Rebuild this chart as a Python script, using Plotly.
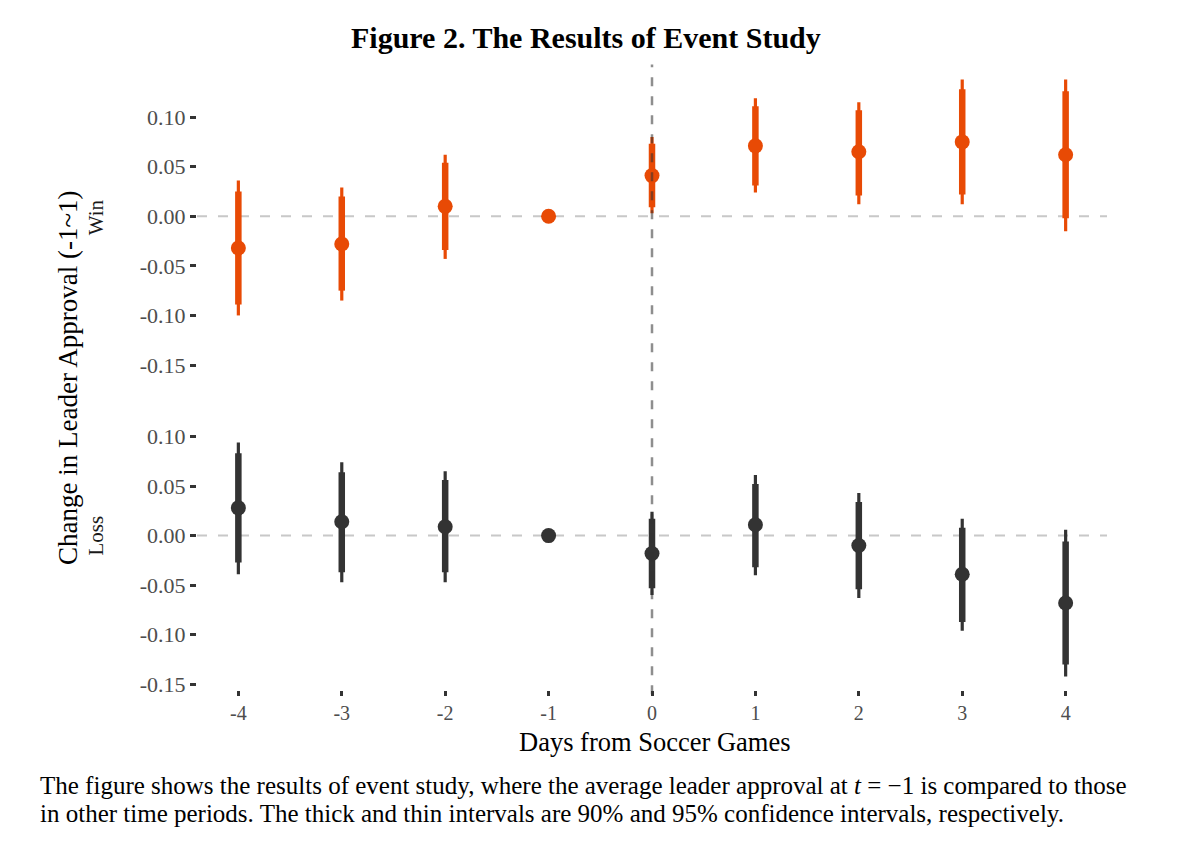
import plotly.graph_objects as go

# ---------------- data ----------------
days = [-4, -3, -2, -1, 0, 1, 2, 3, 4]
day_labels = ["-4", "-3", "-2", "-1", "0", "1", "2", "3", "4"]

win_est = [-0.032, -0.028, 0.010, 0.0, 0.041, 0.071, 0.065, 0.075, 0.062]
win_lo90 = [-0.089, -0.075, -0.034, None, 0.009, 0.031, 0.021, 0.022, -0.002]
win_hi90 = [0.025, 0.020, 0.054, None, 0.073, 0.111, 0.107, 0.128, 0.126]
win_lo95 = [-0.100, -0.085, -0.043, None, 0.003, 0.024, 0.012, 0.012, -0.015]
win_hi95 = [0.036, 0.029, 0.062, None, 0.080, 0.119, 0.115, 0.138, 0.138]

loss_est = [0.028, 0.014, 0.009, 0.0, -0.018, 0.011, -0.010, -0.039, -0.068]
loss_lo90 = [-0.027, -0.037, -0.037, None, -0.053, -0.032, -0.054, -0.087, -0.130]
loss_hi90 = [0.083, 0.064, 0.056, None, 0.017, 0.052, 0.034, 0.008, -0.006]
loss_lo95 = [-0.039, -0.047, -0.047, None, -0.060, -0.040, -0.063, -0.096, -0.142]
loss_hi95 = [0.094, 0.074, 0.065, None, 0.024, 0.061, 0.043, 0.017, 0.006]

y_ticks = [0.10, 0.05, 0.0, -0.05, -0.10, -0.15]
y_tick_labels = ["0.10", "0.05", "0.00", "-0.05", "-0.10", "-0.15"]

# ---------------- style ----------------
OFF = 8  # page body margin
W, H = 1200 - OFF, 855 - OFF
ORANGE = "#E84A05"
DARK = "#333333"
SERIF = "Liberation Serif, Times New Roman, serif"
TICKCOL = "#4D4D4D"


def px(x):
    return (x - OFF) / W


def py(y):
    return 1 - (y - OFF) / H


x_dom = [px(197), px(1107)]
top_dom = [py(374), py(66)]
bot_dom = [py(696), py(388)]
y_range = [-0.156, 0.152]


def seg(xs, lo, hi):
    X, Y = [], []
    for x, a, b in zip(xs, lo, hi):
        if a is None or b is None:
            continue
        X += [x, x, None]
        Y += [a, b, None]
    return X, Y


fig = go.Figure()

for est, lo90, hi90, lo95, hi95, col, xa, ya in [
    (win_est, win_lo90, win_hi90, win_lo95, win_hi95, ORANGE, "x", "y"),
    (loss_est, loss_lo90, loss_hi90, loss_lo95, loss_hi95, DARK, "x2", "y2"),
]:
    X, Y = seg(days, lo95, hi95)
    fig.add_trace(go.Scatter(x=X, y=Y, mode="lines", line=dict(color=col, width=3.2),
                             xaxis=xa, yaxis=ya, showlegend=False, hoverinfo="skip"))
    X, Y = seg(days, lo90, hi90)
    fig.add_trace(go.Scatter(x=X, y=Y, mode="lines", line=dict(color=col, width=6.5),
                             xaxis=xa, yaxis=ya, showlegend=False, hoverinfo="skip"))
    fig.add_trace(go.Scatter(x=days, y=est, mode="markers",
                             marker=dict(color=col, size=15, line=dict(width=0)),
                             xaxis=xa, yaxis=ya, showlegend=False))

# zero reference lines
for xr, yr in [("x domain", "y"), ("x2 domain", "y2")]:
    fig.add_shape(type="line", xref=xr, yref=yr,
                  x0=0, x1=1, y0=0, y1=0, layer="below",
                  line=dict(color="#C8C8C8", width=2, dash="10px,11px"))

# vertical event line spanning both panels
fig.add_shape(type="line", xref="x2", yref="paper", x0=0, x1=0,
              y0=py(700), y1=py(65), layer="above",
              line=dict(color="rgba(50,50,50,0.55)", width=2.5, dash="9px,10px"))

axis_common = dict(range=[-4.4, 4.4], domain=x_dom, showgrid=False, zeroline=False,
                   showline=False)
yaxis_common = dict(range=y_range, showgrid=False, zeroline=False, showline=False,
                    tickmode="array", tickvals=y_ticks, ticktext=y_tick_labels,
                    ticks="outside", ticklen=6, tickwidth=2.5, tickcolor=DARK,
                    tickfont=dict(family=SERIF, size=22, color=TICKCOL))

fig.update_layout(
    width=W, height=H,
    margin=dict(l=0, r=0, t=0, b=0),
    paper_bgcolor="white", plot_bgcolor="white",
    xaxis=dict(**axis_common, anchor="y", showticklabels=False, ticks=""),
    xaxis2=dict(**axis_common, anchor="y2", matches="x",
                tickmode="array", tickvals=days, ticktext=day_labels,
                ticks="outside", ticklen=5, tickwidth=2.5, tickcolor=DARK,
                tickfont=dict(family=SERIF, size=20, color=TICKCOL)),
    yaxis=dict(**yaxis_common, domain=top_dom, anchor="x"),
    yaxis2=dict(**yaxis_common, domain=bot_dom, anchor="x2"),
)

ann = [
    dict(text="<b>Figure 2. The Results of Event Study</b>", x=px(586), y=py(38),
         font=dict(family=SERIF, size=30, color="black"), xanchor="center", yanchor="middle"),
    dict(text="Win", x=px(96), y=py(219), textangle=-90,
         font=dict(family=SERIF, size=21, color="#1a1a1a"), xanchor="center", yanchor="middle"),
    dict(text="Loss", x=px(96), y=py(540), textangle=-90,
         font=dict(family=SERIF, size=21, color="#1a1a1a"), xanchor="center", yanchor="middle"),
    dict(text="Change in Leader Approval (-1~1)", x=px(68), y=py(381), textangle=-90,
         font=dict(family=SERIF, size=27, color="black"), xanchor="center", yanchor="middle"),
    dict(text="Days from Soccer Games", x=px(655), y=py(748),
         font=dict(family=SERIF, size=26.5, color="black"), xanchor="center", yanchor="middle"),
    dict(text="The figure shows the results of event study, where the average leader approval at <i>t</i> = \u22121 is compared to those",
         x=px(38), y=py(792), font=dict(family=SERIF, size=25, color="black"),
         xanchor="left", yanchor="middle", align="left"),
    dict(text="in other time periods. The thick and thin intervals are 90% and 95% confidence intervals, respectively.",
         x=px(38), y=py(820), font=dict(family=SERIF, size=25, color="black"),
         xanchor="left", yanchor="middle", align="left"),
]
for a in ann:
    fig.add_annotation(xref="paper", yref="paper", showarrow=False, **a)

fig.write_html("out.html")
